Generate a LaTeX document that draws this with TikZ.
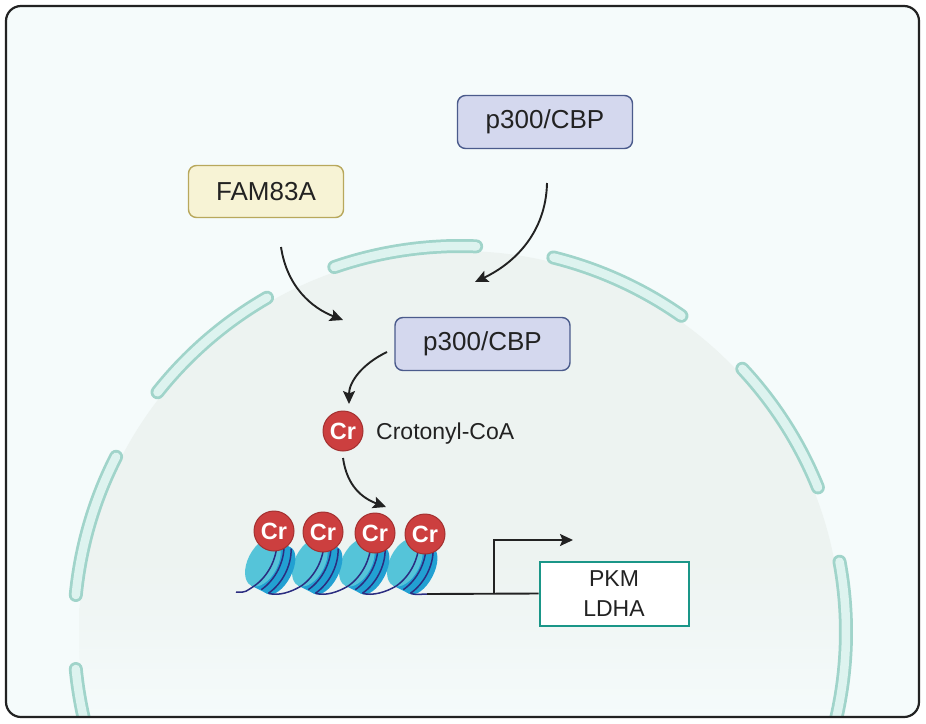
\documentclass[tikz,border=0pt]{standalone}
\usepackage{fontspec}
\setmainfont{Liberation Sans}
\usetikzlibrary{arrows.meta}
\definecolor{bgc}{HTML}{F5FBFB}
\definecolor{nucA}{HTML}{EDF3F1}
\definecolor{segO}{HTML}{A0D4CA}
\definecolor{segI}{HTML}{DDF3EF}
\definecolor{pfill}{HTML}{D4D8EE}
\definecolor{pdraw}{HTML}{4B5B8C}
\definecolor{ffill}{HTML}{F7F3D5}
\definecolor{fdraw}{HTML}{B8A85C}
\definecolor{gdraw}{HTML}{1A9688}
\definecolor{crred}{HTML}{CC3F3F}
\definecolor{crdark}{HTML}{A33030}
\definecolor{nlight}{HTML}{55C4D9}
\definecolor{ndark}{HTML}{22A0D2}
\definecolor{navy}{HTML}{2B2D80}
\definecolor{ink}{HTML}{222222}
\begin{document}
\begin{tikzpicture}[x=1pt,y=-1pt,
  segout/.style={line width=14pt,segO,line cap=round},
  segin/.style={line width=8.5pt,segI,line cap=round},
  labbox/.style={draw,rounded corners=8pt,line width=1.4pt,inner sep=0pt,text=ink,
    font=\fontsize{26}{30}\selectfont},
  pbox/.style={labbox,fill=pfill,draw=pdraw,minimum width=175pt,minimum height=53pt},
  fbox/.style={labbox,fill=ffill,draw=fdraw,minimum width=155pt,minimum height=52pt},
  gbox/.style={draw=gdraw,fill=white,line width=2pt,inner sep=0pt,text=ink,align=center,
    minimum width=149pt,minimum height=64pt,font=\fontsize{23}{30}\selectfont},
  crball/.style={circle,fill=crred,draw=crdark,line width=1pt,minimum size=40pt,inner sep=0pt,
    text=white,font=\bfseries\fontsize{23.5}{24}\selectfont},
  arr/.style={ink,line width=1.9pt,-{Stealth[length=13pt,width=12pt,inset=2.5pt]}},
  dna/.style={navy,line width=1.5pt},
]
\useasboundingbox (0,0) rectangle (926,723);
\fill[white] (0,0) rectangle (926,723);
\begin{scope}
  \clip[rounded corners=15pt] (6,6) rectangle (919,717);
  \fill[bgc] (0,0) rectangle (926,723);
  \begin{scope}
    \clip (460,632) circle[radius=381];
    \fill[nucA] (0,0) rectangle (926,723);
    \shade[top color=nucA,bottom color=bgc] (0,560) rectangle (926,718);
  \end{scope}
  \foreach \a/\b in {87.6/109,55/76,22/43,-16/10.5,120/141.6,153/174.5,185.5/197}{
    \draw[segout] plot[domain=\a:\b,samples=40] ({460+386*cos(\x)},{632-386*sin(\x)});
    \draw[segin] plot[domain=\a:\b,samples=40] ({460+386*cos(\x)},{632-386*sin(\x)});
  }
\end{scope}
\draw[ink,line width=2.2pt,rounded corners=15pt] (6,6) rectangle (919,717);

% boxes
\node[pbox] (p300out) at (545,122) {p300/CBP};
\node[fbox] (fam) at (266,191.5) {FAM83A};
\node[pbox] (p300in) at (482.5,344) {p300/CBP};
\node[crball] (cr0) at (343,431) {Cr};
\node[anchor=west,text=ink,font=\fontsize{23}{27}\selectfont,inner sep=0pt] (crlabel) at (376,434) {Crotonyl-CoA};
\node[gbox] (pkm) at (614,593.5) {PKM\\LDHA};

% arrows
\coordinate (a1s) at (281,247); \coordinate (a1e) at (343,320);
\draw[arr] (a1s) .. controls (287,287) and (312,308) .. (a1e);
\coordinate (a2s) at (547,183); \coordinate (a2e) at (475,282);
\draw[arr] (a2s) .. controls (546,232) and (515,263) .. (a2e);
\coordinate (a3s) at (387,352); \coordinate (a3e) at (349,404);
\draw[arr] (a3s) .. controls (362,364) and (349,382) .. (a3e);
\coordinate (a4s) at (343,458); \coordinate (a4e) at (386,507);
\draw[arr] (a4s) .. controls (347,486) and (362,498) .. (a4e);

% nucleosomes (drawn right to left)
\foreach \i/\cx in {3/412,2/364,1/317,0/270}{
  \begin{scope}[shift={(\cx,566)},rotate=-27]
    \fill[ndark] (-8,-26) -- (10,-26) -- (10,26) -- (-8,26) -- cycle;
    \fill[ndark] (10,0) ellipse[x radius=13,y radius=26];
    \fill[nlight] (-8,0) ellipse[x radius=15,y radius=26];
    \foreach \xi in {-3,5,13}{
      \draw[dna] (\xi-2,25) .. controls (\xi+6,10) and (\xi+6,-10) .. (\xi-2,-25);
    }
    \coordinate (nb\i) at (-5,25);
    \coordinate (ne\i) at (11,25);
  \end{scope}
}
\coordinate (dnas) at (236,592);
\coordinate (chrend) at (427,594);
\draw[dna] (dnas) .. controls +(10,1) and +(-8,5) .. (nb0);
\draw[dna] (ne0) .. controls +(10,3) and +(-10,6) .. (nb1);
\draw[dna] (ne1) .. controls +(10,3) and +(-10,6) .. (nb2);
\draw[dna] (ne2) .. controls +(10,3) and +(-10,6) .. (nb3);
\draw[dna] (ne3) .. controls +(4,2) and +(-4,0) .. (chrend);

% crotonyl marks on histones
\node[crball] (cr1) at (274,531) {Cr};
\node[crball] (cr2) at (323,532) {Cr};
\node[crball] (cr3) at (375,533) {Cr};
\node[crball] (cr4) at (425,534) {Cr};

% transcription start
\coordinate (branch) at (494,594);
\coordinate (tss) at (573,540);
\draw[ink,line width=1.9pt] (chrend) -- (pkm.west);
\draw[ink,line width=1.9pt,-{Stealth[length=13pt,width=12pt,inset=2.5pt]}] (branch) |- (tss);
\end{tikzpicture}
\end{document}
